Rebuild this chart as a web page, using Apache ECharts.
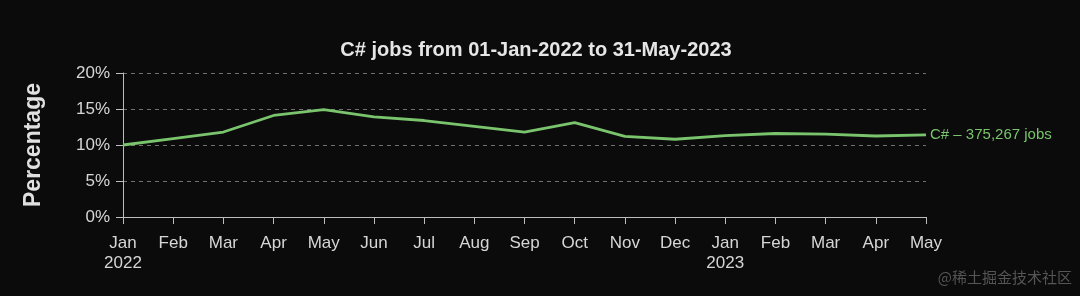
<!DOCTYPE html>
<html><head><meta charset="utf-8">
<script src="https://cdn.jsdelivr.net/npm/echarts@6/dist/echarts.min.js"></script>
<style>html,body{margin:0;padding:0;background:#0b0b0b;}#c{width:1080px;height:296px;}</style>
</head><body><div id="c"></div>
<script>
const categories = ['Jan\n2022','Feb','Mar','Apr','May','Jun','Jul','Aug','Sep','Oct','Nov','Dec','Jan\n2023','Feb','Mar','Apr','May'];
const csharpPct = [10.0,10.9,11.8,14.1,14.9,13.9,13.4,12.6,11.8,13.1,11.2,10.8,11.3,11.6,11.5,11.25,11.4];
const yTicks = [0,5,10,15,20];
const seriesLabel = 'C# – 375,267 jobs';
const titleText = 'C# jobs from 01-Jan-2022 to 31-May-2023';

const chart = echarts.init(document.getElementById('c'));
const font = '"Liberation Sans", Helvetica, Arial, sans-serif';
chart.setOption({
  backgroundColor: '#0b0b0b',
  animation: false,
  title: {text: titleText, left: 531, top: 35, textAlign: 'center',
    textStyle: {color: '#e6e6e6', fontSize: 20, fontWeight: 'bold', fontFamily: font}},
  grid: {left: 123, right: 154, top: 73, bottom: 79},
  xAxis: {type: 'category', data: categories, boundaryGap: false,
    axisLine: {lineStyle: {color: '#bdbdbd', width: 1}},
    axisTick: {show: true, alignWithLabel: true, length: 7, lineStyle: {color: '#bdbdbd'}},
    axisLabel: {color: '#d6d6d6', fontSize: 17, fontFamily: font, margin: 16, lineHeight: 20, interval: 0},
    splitLine: {show: false}},
  yAxis: {type: 'value', min: 0, max: 20, interval: 5,
    name: 'Percentage', nameLocation: 'middle', nameGap: 78, nameRotate: 90,
    nameTextStyle: {color: '#e0e0e0', fontSize: 23, fontWeight: 'bold', fontFamily: font},
    axisLine: {show: true, lineStyle: {color: '#bdbdbd'}},
    axisTick: {show: true, length: 7, lineStyle: {color: '#bdbdbd'}},
    axisLabel: {color: '#d6d6d6', fontSize: 17, fontFamily: font, margin: 13,
      formatter: v => yTicks.includes(v) ? v + '%' : ''},
    splitLine: {show: true, lineStyle: {color: '#707070', type: [4, 4], width: 1}}},
  series: [{type: 'line', data: csharpPct, symbol: 'none',
    lineStyle: {color: '#79c46c', width: 2.8},
    endLabel: {show: true, formatter: seriesLabel, color: '#79c46c', fontSize: 15, fontFamily: font, distance: 4}}],
  graphic: [{type: 'text', right: 8, bottom: 11,
    style: {text: '@稀土掘金技术社区', fill: '#555555', fontSize: 15, fontFamily: '"Noto Sans CJK SC", sans-serif'}}]
});
</script></body></html>
